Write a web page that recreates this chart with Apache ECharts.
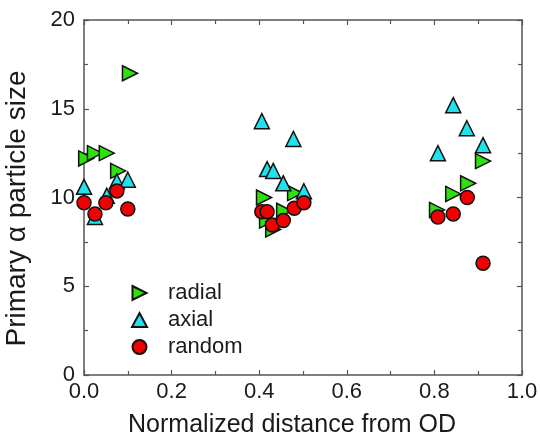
<!DOCTYPE html>
<html>
<head>
<meta charset="utf-8">
<script src="https://cdn.jsdelivr.net/npm/echarts@6/dist/echarts.min.js"></script>
<style>
  html, body { margin: 0; padding: 0; background: #fff; }
  #chart { width: 540px; height: 442px; }
</style>
</head>
<body>
<div id="chart"></div>
<script>
// [distance, size] pairs
const radial = [
  [0.005, 12.2], [0.025, 12.5], [0.052, 12.5], [0.078, 11.5], [0.105, 17.0],
  [0.411, 10.0], [0.418, 8.7], [0.432, 8.2], [0.457, 9.25], [0.482, 10.25],
  [0.806, 9.3], [0.843, 10.2], [0.877, 10.8], [0.911, 12.05]
];
const axial = [
  [0.0, 10.6], [0.025, 8.9], [0.052, 10.1], [0.075, 10.9], [0.1, 11.0],
  [0.406, 14.3], [0.418, 11.6], [0.432, 11.5], [0.455, 10.8], [0.478, 13.3], [0.502, 10.35],
  [0.808, 12.5], [0.843, 15.2], [0.874, 13.9], [0.911, 12.95]
];
const random = [
  [0.0, 9.7], [0.025, 9.07], [0.05, 9.7], [0.075, 10.37], [0.1, 9.35],
  [0.406, 9.2], [0.418, 9.2], [0.43, 8.45], [0.455, 8.7], [0.48, 9.4], [0.502, 9.7],
  [0.808, 8.9], [0.843, 9.07], [0.875, 10.0], [0.911, 6.3]
];

const font = 'Arial, "Liberation Sans", sans-serif';
const axisColor = '#555';
const textColor = '#1a1a1a';
const rightTriangle = 'path://M0,0 L10,5 L0,10 Z';

const chart = echarts.init(document.getElementById('chart'));

const baseAxis = {
  axisLine: { show: true, onZero: false, lineStyle: { color: axisColor, width: 1.5 } },
  axisTick: { show: true, inside: true, length: 5, lineStyle: { color: axisColor, width: 1.2 } },
  minorTick: { show: true, splitNumber: 2, length: 4, lineStyle: { color: axisColor, width: 1.2 } },
  splitLine: { show: false }
};

chart.setOption({
  animation: false,
  grid: { left: 84, right: 18, top: 20, bottom: 67, containLabel: false, outerBoundsMode: 'none' },
  legend: {
    orient: 'vertical',
    left: 126,
    top: 277,
    itemWidth: 15,
    itemHeight: 14,
    itemGap: 5,
    textStyle: { fontFamily: font, fontSize: 22, color: textColor, padding: [0, 0, 0, 16] },
    data: [
      { name: 'radial', icon: rightTriangle },
      { name: 'axial' },
      { name: 'random' }
    ]
  },
  xAxis: [
    Object.assign({}, baseAxis, {
      type: 'value', min: 0, max: 1, interval: 0.2, position: 'bottom',
      name: 'Normalized distance from OD', nameLocation: 'middle', nameGap: 38,
      nameTextStyle: { fontFamily: font, fontSize: 25, color: textColor, padding: [0, 22, 0, 0] },
      axisLabel: { fontFamily: font, fontSize: 22, color: textColor, margin: 6,
        formatter: v => v.toFixed(1) }
    }),
    Object.assign({}, baseAxis, {
      type: 'value', min: 0, max: 1, interval: 0.2, position: 'top',
      axisLabel: { show: false }
    })
  ],
  yAxis: [
    Object.assign({}, baseAxis, {
      type: 'value', min: 0, max: 20, interval: 5, position: 'left',
      name: 'Primary \u03b1 particle size', nameLocation: 'middle', nameGap: 53,
      nameTextStyle: { fontFamily: font, fontSize: 28, color: textColor, padding: [0, 22, 0, 0] },
      axisLabel: { fontFamily: font, fontSize: 22, color: textColor, margin: 9 }
    }),
    Object.assign({}, baseAxis, {
      type: 'value', min: 0, max: 20, interval: 5, position: 'right',
      axisLabel: { show: false }
    })
  ],
  series: [
    {
      name: 'radial', type: 'scatter', data: radial,
      symbol: 'triangle', symbolSize: 15, symbolRotate: -90,
      itemStyle: { color: '#2ee010', borderColor: '#111', borderWidth: 1.5, opacity: 1 }
    },
    {
      name: 'axial', type: 'scatter', data: axial,
      symbol: 'triangle', symbolSize: 15,
      itemStyle: { color: '#1fe3ec', borderColor: '#111', borderWidth: 1.5, opacity: 1 }
    },
    {
      name: 'random', type: 'scatter', data: random,
      symbol: 'circle', symbolSize: 14,
      itemStyle: { color: '#f00000', borderColor: '#111', borderWidth: 1.5, opacity: 1 }
    }
  ]
});
</script>
</body>
</html>
